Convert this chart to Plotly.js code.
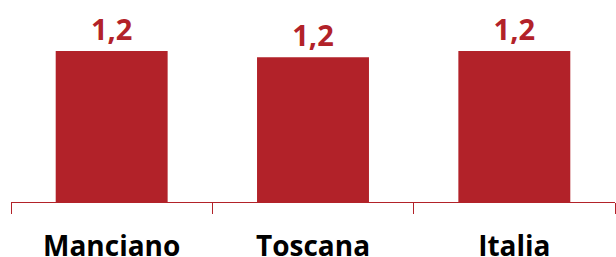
<!DOCTYPE html>
<html>
<head>
<meta charset="utf-8">
<script src="https://cdn.plot.ly/plotly-3.0.1.min.js"></script>
<style>html,body{margin:0;padding:0;background:#fff;}#chart{width:616px;height:257px;}</style>
</head>
<body>
<div id="chart"></div>
<script>
var categories = ["Manciano", "Toscana", "Italia"];
var values = [1.24, 1.19, 1.24];
var valueLabels = ["1,2", "1,2", "1,2"];

var red = "#B22229";
var trace = {
  type: "bar",
  x: categories,
  y: values,
  text: valueLabels,
  textposition: "outside",
  cliponaxis: false,
  textfont: {family: "Open Sans", size: 29, color: red, weight: "bold"},
  marker: {color: red},
  hoverinfo: "none"
};
var layout = {
  width: 616, height: 257,
  margin: {l: 11, r: 1, t: 0, b: 55},
  paper_bgcolor: "#fff", plot_bgcolor: "#fff",
  bargap: 0.444,
  showlegend: false,
  xaxis: {
    type: "category",
    range: [-0.5, 2.5],
    showline: true, linecolor: red, linewidth: 1,
    ticks: "outside", tickson: "boundaries", ticklen: 11, tickcolor: red, tickwidth: 1,
    ticklabelstandoff: 19,
    tickfont: {family: "Open Sans", size: 28, color: "#000", weight: "bold"},
    showgrid: false, zeroline: false
  },
  yaxis: {
    range: [0, 1.66], visible: false, showgrid: false, zeroline: false
  }
};
Plotly.newPlot("chart", [trace], layout, {displayModeBar: false, staticPlot: true});
</script>
</body>
</html>
